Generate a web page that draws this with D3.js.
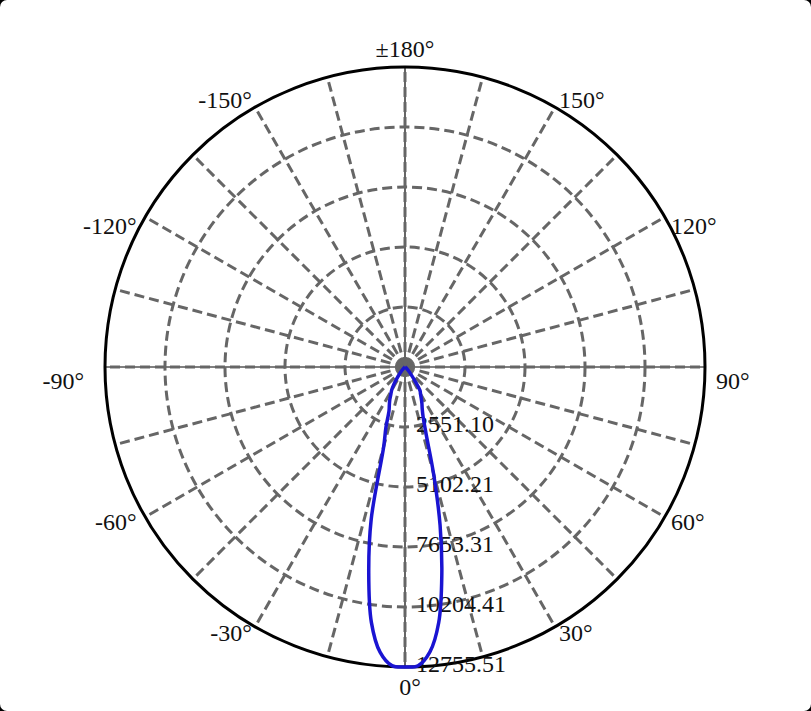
<!DOCTYPE html>
<html>
<head>
<meta charset="utf-8">
<script src="https://cdnjs.cloudflare.com/ajax/libs/d3/7.8.5/d3.min.js"></script>
<style>
	body { margin: 0; background: #000; overflow: hidden; }
	text { font-family: "Liberation Serif", "Times New Roman", serif; font-size: 24px; fill: #111; }
</style>
</head>
<body>
<div id="chart"></div>
<script>

// radial ring values (cd) and their labels
var ringValues = [2551.10, 5102.21, 7653.31, 10204.41, 12755.51];
var ringLabels = ["2551.10", "5102.21", "7653.31", "10204.41", "12755.51"];

// angle labels around the rim
var angleTicks = [0, 30, 60, 90, 120, 150, 180, -150, -120, -90, -60, -30];
var angleTickLabels = ["0°", "30°", "60°", "90°", "120°", "150°", "±180°", "-150°", "-120°", "-90°", "-60°", "-30°"];

// intensity curve
var curveAngles = [0, 2.5, 5, 7.5, 10, 12.5, 15, 17.5, 20, 22.5, 25, 27.5, 30, 32.5, 35, 40, 45, 50, 60, 90, 180];
var c0Values   = [12755.51, 12713, 12160, 10970, 9010, 6890, 4680, 2980, 2250, 1910, 1700, 1490, 1320, 1190, 810, 340, 130, 40, 0, 0, 0];
var c180Values = [12755.51, 12710, 12170, 10950, 8880, 6650, 3490, 2700, 1990, 1740, 1530, 1300, 1130, 900, 640, 290, 110, 30, 0, 0, 0];

var width = 811, height = 711;
var cx = 405, cy = 367, R = 300;

var svg = d3.select("#chart").append("svg")
			.attr("width", width)
			.attr("height", height);

svg.append("rect")
	.attr("width", width)
	.attr("height", height)
	.attr("rx", 7)
	.attr("fill", "#fff");

var g = svg.append("g").attr("transform", "translate(" + cx + "," + cy + ")");

var rScale = d3.scaleLinear().domain([0, 12755.51]).range([0, R]);

function rad(a) { return a * Math.PI / 180; }

// screen position: 0° points down, positive angles to the right
function px(a, r) { return r * Math.sin(rad(a)); }
function py(a, r) { return r * Math.cos(rad(a)); }

// thin black axes under the dashed grid
g.selectAll("line.axis")
	.data([0, 90])
	.enter()
	.append("line")
	.attr("class", "axis")
	.attr("x1", function(d) { return px(d, -R); })
	.attr("y1", function(d) { return py(d, -R); })
	.attr("x2", function(d) { return px(d, R); })
	.attr("y2", function(d) { return py(d, R); })
	.attr("stroke", "#000")
	.attr("stroke-width", 1.2);

// dashed spokes every 15 degrees
g.selectAll("line.spoke")
	.data(d3.range(-165, 181, 15))
	.enter()
	.append("line")
	.attr("class", "spoke")
	.attr("x1", 0)
	.attr("y1", 0)
	.attr("x2", function(d) { return px(d, R); })
	.attr("y2", function(d) { return py(d, R); })
	.attr("stroke", "#666")
	.attr("stroke-width", 3)
	.attr("stroke-dasharray", "10,5");

// dashed rings
g.selectAll("circle.ring")
	.data(ringValues.slice(0, ringValues.length - 1))
	.enter()
	.append("circle")
	.attr("class", "ring")
	.attr("r", function(d) { return rScale(d); })
	.attr("fill", "none")
	.attr("stroke", "#666")
	.attr("stroke-width", 3)
	.attr("stroke-dasharray", "10,5");

// outer rim
g.append("circle")
	.attr("r", rScale(ringValues[ringValues.length - 1]))
	.attr("fill", "none")
	.attr("stroke", "#000")
	.attr("stroke-width", 3);

// ring labels along the 0° spoke
g.selectAll("text.ringLabel")
	.data(ringValues)
	.enter()
	.append("text")
	.attr("class", "ringLabel")
	.attr("x", 11)
	.attr("y", function(d) { return rScale(d) + 5; })
	.text(function(d, i) { return ringLabels[i]; });

// angle labels
g.selectAll("text.angleLabel")
	.data(angleTicks)
	.enter()
	.append("text")
	.attr("class", "angleLabel")
	.attr("text-anchor", function(d) {
		var s = Math.sin(rad(d));
		if (Math.abs(s) < 0.01) return "middle";
		return s > 0 ? "start" : "end";
	})
	.attr("x", function(d) {
		var s = Math.sin(rad(d));
		if (Math.abs(s) < 0.01) return Math.cos(rad(d)) > 0 ? 5 : 0;
		var s8 = Math.pow(Math.abs(s), 8);
		return px(d, R) + (s > 0 ? 4 + 7 * s8 : -(3 + 18 * s8));
	})
	.attr("y", function(d) {
		var s = Math.sin(rad(d)), c = Math.cos(rad(d));
		if (Math.abs(s) < 0.01) return py(d, R) + 9 + 19 * c;
		return py(d, R) + 6.5 - 9.75 * c + 23 * c * c * c + 15 * Math.pow(s, 4);
	})
	.text(function(d, i) { return angleTickLabels[i]; });

// build the full curve: C180 half on the left, C0 half on the right
var points = [];
for (var i = curveAngles.length - 1; i > 0; i--) {
	points.push({a: -curveAngles[i], v: c180Values[i]});
}
for (var j = 0; j < curveAngles.length; j++) {
	points.push({a: curveAngles[j], v: c0Values[j]});
}

var line = d3.lineRadial()
			.curve(d3.curveCatmullRom.alpha(0.5))
			.angle(function(d) { return Math.PI - rad(d.a); })
			.radius(function(d) { return rScale(d.v); });

g.append("path")
	.datum(points)
	.attr("d", line)
	.attr("fill", "none")
	.attr("stroke", "#1a14d2")
	.attr("stroke-width", 3.5)
	.attr("stroke-linejoin", "round");

</script>
</body>
</html>
